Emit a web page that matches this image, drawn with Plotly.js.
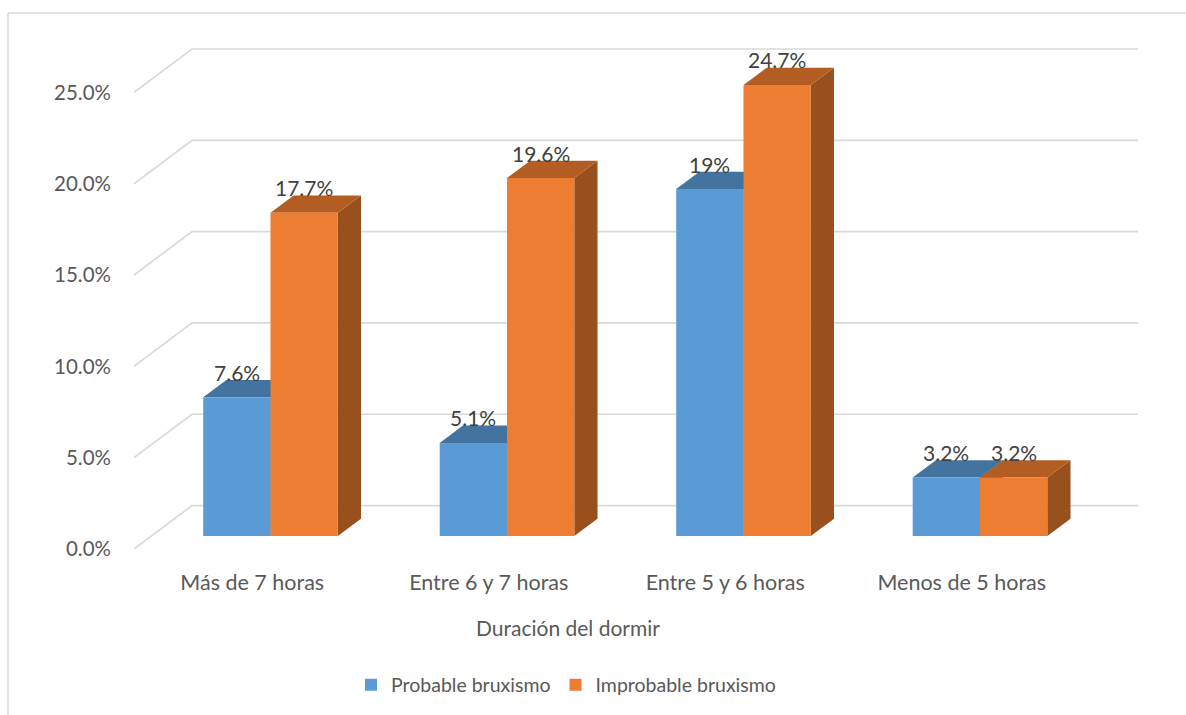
<!DOCTYPE html>
<html>
<head>
<meta charset="utf-8">
<script src="https://cdn.plot.ly/plotly-3.0.1.min.js"></script>
<style>html,body{margin:0;padding:0;background:#fff;}#chart{width:1186px;height:715px;}</style>
</head>
<body>
<div id="chart"></div>
<script>
// ---- data ----
const categories = ['Más de 7 horas', 'Entre 6 y 7 horas', 'Entre 5 y 6 horas', 'Menos de 5 horas'];
const probable = [7.6, 5.1, 19, 3.2];
const improbable = [17.7, 19.6, 24.7, 3.2];
const seriesNames = ['Probable bruxismo', 'Improbable bruxismo'];
const yTicks = [0, 5, 10, 15, 20, 25];
const xTitle = 'Duración del dormir';

// ---- geometry / style ----
const FIG_W = 1186, FIG_H = 715;
const L = 134, R = 1138, T = 40, B = 550;
const W = R - L, H = B - T;
const pxX = 236.5, pxY = 18.3;            // pixels per category / per percent
const xr = [-0.5, -0.5 + W / pxX];
const yr = [0, H / pxY];
const planeDX = 18.25 / pxX, planeDY = 13 / pxY;   // bar front plane vs floor front edge
const wallDX = 58 / pxX, wallDY = 43.5 / pxY;      // full floor depth
const barDX = 23.2 / pxX, barDY = 17.3 / pxY;      // bar depth
const barW = 67.3 / pxX;
const colors = {
  front: ['#5B9BD5', '#ED7D31'],
  top: ['#43739F', '#B45D22'],
  side: ['#3B6790', '#98501D']
};
const gridColor = '#D9D9D9';
const textColor = '#595959';
const labelColor = '#404040';
const FONT = 'Lato, "Open Sans", sans-serif';
const px2paperX = p => (p - L) / W;
const px2paperY = p => (B - p) / H;

const idx = categories.map((c, i) => i);
const series = [probable, improbable];

const traces = series.map((vals, s) => ({
  type: 'bar',
  name: seriesNames[s],
  x: idx,
  y: vals,
  xaxis: 'x2',
  yaxis: 'y2',
  marker: {color: colors.front[s], line: {width: 0}},
  hoverinfo: 'x+y'
}));

const shapes = [];
// chart frame (left and top edges)
shapes.push({type: 'line', xref: 'paper', yref: 'paper', x0: px2paperX(8), x1: px2paperX(8), y0: px2paperY(13), y1: px2paperY(FIG_H + 5), line: {color: gridColor, width: 1.5}, layer: 'below'});
shapes.push({type: 'line', xref: 'paper', yref: 'paper', x0: px2paperX(8), x1: px2paperX(FIG_W + 5), y0: px2paperY(13), y1: px2paperY(13), line: {color: gridColor, width: 1.5}, layer: 'below'});
// side wall diagonals + back wall gridlines
yTicks.forEach(v => {
  shapes.push({
    type: 'path', xref: 'x', yref: 'y', layer: 'below',
    path: `M ${xr[0]} ${v} L ${xr[0] + wallDX} ${v + wallDY} L ${xr[1]} ${v + wallDY}`,
    line: {color: gridColor, width: 1.7}
  });
});
// 3D faces of each bar (drawn below the bar front faces)
idx.forEach(i => {
  series.forEach((vals, s) => {
    const v = vals[i];
    const x0 = i + (s === 0 ? -barW : 0);
    const x1 = x0 + barW;
    shapes.push({
      type: 'path', xref: 'x2', yref: 'y2', layer: 'below',
      path: `M ${x1} 0 L ${x1} ${v} L ${x1 + barDX} ${v + barDY} L ${x1 + barDX} ${barDY} Z`,
      fillcolor: colors.side[s], line: {width: 0}
    });
    shapes.push({
      type: 'path', xref: 'x2', yref: 'y2', layer: 'below',
      path: `M ${x0} ${v} L ${x1} ${v} L ${x1 + barDX} ${v + barDY} L ${x0 + barDX} ${v + barDY} Z`,
      fillcolor: colors.top[s], line: {width: 0}
    });
  });
});

const annotations = [];
idx.forEach(i => {
  series.forEach((vals, s) => {
    annotations.push({
      xref: 'x2', yref: 'y2',
      x: i + (s === 0 ? -barW / 2 : barW / 2), y: vals[i],
      text: vals[i] + '%', showarrow: false,
      xanchor: 'center', yanchor: 'middle', yshift: 25,
      font: {family: FONT, size: 21, color: labelColor}
    });
  });
});
annotations.push({
  xref: 'paper', yref: 'paper', x: px2paperX(568), y: px2paperY(629),
  text: xTitle, showarrow: false, xanchor: 'center', yanchor: 'middle',
  font: {family: FONT, size: 21, color: textColor}
});

const layout = {
  width: FIG_W, height: FIG_H,
  margin: {l: L, r: FIG_W - R, t: T, b: FIG_H - B, pad: 0},
  paper_bgcolor: '#fff', plot_bgcolor: 'rgba(0,0,0,0)',
  font: {family: FONT, size: 20, color: textColor},
  barmode: 'group', bargap: 1 - 2 * barW, bargroupgap: 0,
  showlegend: true,
  legend: {
    orientation: 'h', x: px2paperX(566), xanchor: 'center',
    y: px2paperY(685), yanchor: 'middle',
    font: {family: FONT, size: 19.5, color: textColor},
    traceorder: 'normal'
  },
  xaxis: {
    range: xr, tickvals: idx, ticktext: categories,
    showgrid: false, zeroline: false, showline: false, ticks: '',
    ticklabelstandoff: 18, fixedrange: true,
    tickfont: {family: FONT, size: 21.5, color: textColor}
  },
  yaxis: {
    range: yr, tickvals: yTicks, ticktext: yTicks.map(v => v.toFixed(1) + '%'),
    showgrid: false, zeroline: false, showline: false, ticks: '',
    ticklabelstandoff: 22, fixedrange: true,
    tickfont: {family: FONT, size: 20.5, color: textColor}
  },
  xaxis2: {
    overlaying: 'x', anchor: 'y2', range: [xr[0] - planeDX, xr[1] - planeDX],
    visible: false, fixedrange: true
  },
  yaxis2: {
    overlaying: 'y', anchor: 'x2', range: [yr[0] - planeDY, yr[1] - planeDY],
    visible: false, fixedrange: true
  },
  shapes: shapes,
  annotations: annotations
};

Plotly.newPlot('chart', traces, layout, {displayModeBar: false, responsive: false});
</script>
</body>
</html>
